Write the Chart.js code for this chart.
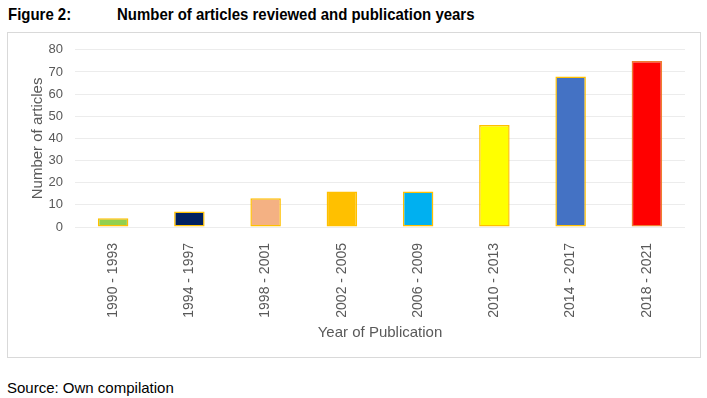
<!DOCTYPE html>
<html>
<head>
<meta charset="utf-8">
<script src="https://cdn.jsdelivr.net/npm/chart.js@4/dist/chart.umd.min.js"></script>
<style>
  body { margin: 0; background: #fff; width: 707px; height: 398px; position: relative; overflow: hidden; }
  .title { position: absolute; top: 5px; font-family: "Liberation Sans", Arial, sans-serif; font-weight: bold; font-size: 17px; color: #000; transform: scaleX(0.88); transform-origin: left top; white-space: nowrap; }
  .box { position: absolute; left: 7px; top: 32px; width: 692px; height: 324px; border: 1px solid #d9d9d9; }
  #chart { position: absolute; left: 8px; top: 30px; }
  .source { position: absolute; left: 7px; top: 379px; font-family: "Liberation Sans", Arial, sans-serif; font-size: 15px; color: #000; }
</style>
</head>
<body>
<div class="title" style="left:8px">Figure 2:</div>
<div class="title" style="left:117px">Number of articles reviewed and publication years</div>
<div class="box"></div>
<canvas id="chart" width="692" height="327"></canvas>
<div class="source">Source: Own compilation</div>
<script>
const periods = ['1990 - 1993', '1994 - 1997', '1998 - 2001', '2002 - 2005', '2006 - 2009', '2010 - 2013', '2014 - 2017', '2018 - 2021'];
const articles = [4, 7, 13, 16, 16, 46, 68, 75];
const barColors = ['#92D050', '#002060', '#F4B183', '#FFC000', '#00B0F0', '#FFFF00', '#4472C4', '#FF0000'];
const borderColors = ['#FFC000', '#FFC000', '#FFC000', '#FFC000', '#FFC000', '#FFC000', '#FFC000', '#ED7D31'];
const yTicks = [0, 10, 20, 30, 40, 50, 60, 70, 80];

const grey = '#595959';
const ctx = document.getElementById('chart').getContext('2d');
new Chart(ctx, {
    type: 'bar',
    data: {
        labels: periods,
        datasets: [{
            data: articles,
            backgroundColor: barColors,
            borderColor: borderColors,
            borderWidth: 1.5,
            borderSkipped: false,
            categoryPercentage: 0.8,
            barPercentage: 0.5
        }]
    },
    options: {
        responsive: false,
        animation: false,
        layout: { padding: { left: 17, top: 13, right: 15, bottom: 0 } },
        plugins: { legend: { display: false }, tooltip: { enabled: false } },
        scales: {
            x: {
                grid: { display: false },
                border: { display: false },
                ticks: { color: grey, font: { family: 'Liberation Sans', size: 14 }, maxRotation: 90, minRotation: 90, padding: 8 },
                title: { display: true, text: 'Year of Publication', color: grey, font: { family: 'Liberation Sans', size: 15 }, padding: { top: 4, bottom: 15 } },
                afterFit: (scale) => { scale.height = 130; }
            },
            y: {
                min: 0,
                max: 80,
                afterBuildTicks: (scale) => { scale.ticks = yTicks.map(v => ({ value: v })); },
                grid: { color: '#ececec', drawTicks: false },
                border: { display: false },
                ticks: { color: grey, font: { family: 'Liberation Sans', size: 13 }, padding: 12 },
                title: { display: true, text: 'Number of articles', color: grey, font: { family: 'Liberation Sans', size: 15 }, padding: 4 },
                afterFit: (scale) => { scale.width = 50; }
            }
        }
    }
});
</script>
</body>
</html>
